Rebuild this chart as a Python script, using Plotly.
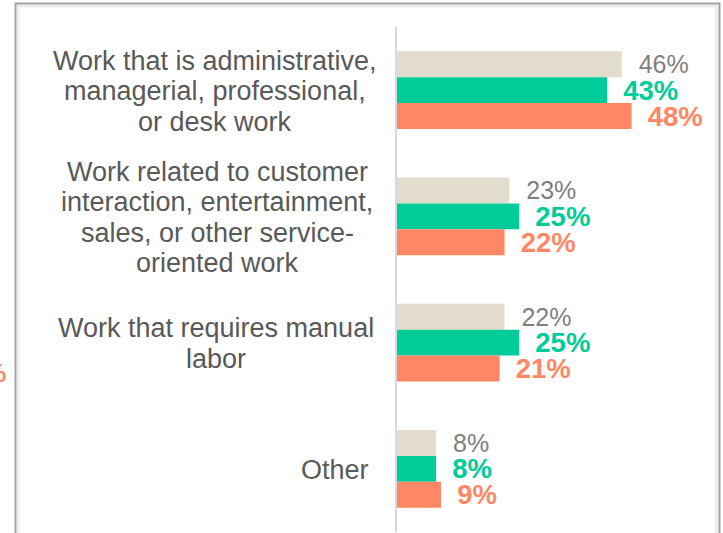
import plotly.graph_objects as go

# Job categories (one list entry per displayed line)
categories = [
    "Work that is administrative, managerial, professional, or desk work",
    "Work related to customer interaction, entertainment, sales, or other service-oriented work",
    "Work that requires manual labor",
    "Other",
]
category_lines = [
    ["Work that is administrative,", "managerial, professional,", "or desk work"],
    ["Work related to customer", "interaction, entertainment,", "sales, or other service-", "oriented work"],
    ["Work that requires manual", "labor"],
    ["Other"],
]

# Shares (%) for the three groups
series_names = ["Group 1", "Group 2", "Group 3"]
group1 = [46, 23, 22, 8]
group2 = [43, 25, 25, 8]
group3 = [48, 22, 21, 9]

bar_colors = ["#E2DCCD", "#00CC99", "#FF8766"]
text_colors = ["#7F7F7F", "#00CC99", "#FF8766"]
text_weights = ["normal", "bold", "bold"]
text_sizes = [25, 27.5, 27.5]
text_pads = ["\u00a0\u00a0", "\u00a0\u2009", "\u00a0\u2009"]

FONT = "Liberation Sans, Arial, sans-serif"
W, H = 723, 533
ML, MR, MT, MB = 397, 3, 27, 1
PW, PH = W - ML - MR, H - MT - MB
PX_PER_UNIT = 4.887


def px_x(px):
    return (px - ML) / PW


def px_y(py):
    return (H - MB - py) / PH


fig = go.Figure()
for name, vals, bc, tc, tw, ts, pad in zip(series_names, [group1, group2, group3],
                                          bar_colors, text_colors, text_weights,
                                          text_sizes, text_pads):
    fig.add_trace(go.Bar(
        y=categories, x=vals, name=name, orientation="h",
        marker=dict(color=bc, line=dict(width=0)),
        text=[f"{pad}{v}%" for v in vals],
        textposition="outside",
        textfont=dict(family=FONT, size=ts, color=tc, weight=tw),
        constraintext="none",
        cliponaxis=False,
    ))

annotations = []
label_centers = [215, 217, 216, 335]
LINE_H = 30.5
for cat, lines, cx in zip(categories, category_lines, label_centers):
    n = len(lines)
    for i, line in enumerate(lines):
        off = (i - (n - 1) / 2) * LINE_H + 1
        annotations.append(dict(
            text=line, xref="paper", yref="y", x=px_x(cx), y=cat,
            xanchor="center", yanchor="middle", yshift=-off,
            showarrow=False,
            font=dict(family=FONT, size=27, color="#595959"),
        ))

# stray label fragment at the far left edge
annotations.append(dict(
    text="%", xref="paper", yref="paper", x=px_x(8), y=px_y(373),
    xanchor="right", yanchor="middle", showarrow=False,
    font=dict(family=FONT, size=25, color="#FF8766", weight="bold"),
))

shapes = [
    # soft inner shadow of the frame
    dict(type="rect", xref="paper", yref="paper",
         x0=px_x(18), x1=px_x(716.5), y0=px_y(560), y1=px_y(6),
         line=dict(color="#EDEDED", width=3), fillcolor="rgba(0,0,0,0)", layer="below"),
    # outer frame
    dict(type="rect", xref="paper", yref="paper",
         x0=px_x(15.5), x1=px_x(719.5), y0=px_y(560), y1=px_y(3.5),
         line=dict(color="#A3A3A3", width=2), fillcolor="rgba(0,0,0,0)", layer="below"),
]

fig.update_layout(
    width=W, height=H,
    margin=dict(l=ML, r=MR, t=MT, b=MB, pad=0),
    paper_bgcolor="white", plot_bgcolor="white",
    barmode="group", bargap=0.383, bargroupgap=0,
    showlegend=False,
    xaxis=dict(range=[0, PW / PX_PER_UNIT], visible=False, fixedrange=True),
    yaxis=dict(autorange="reversed", showticklabels=False, ticks="",
               showgrid=False, zeroline=False,
               showline=True, linecolor="#D9D9D9", linewidth=2),
    annotations=annotations,
    shapes=shapes,
)

fig.write_html("out.html")
